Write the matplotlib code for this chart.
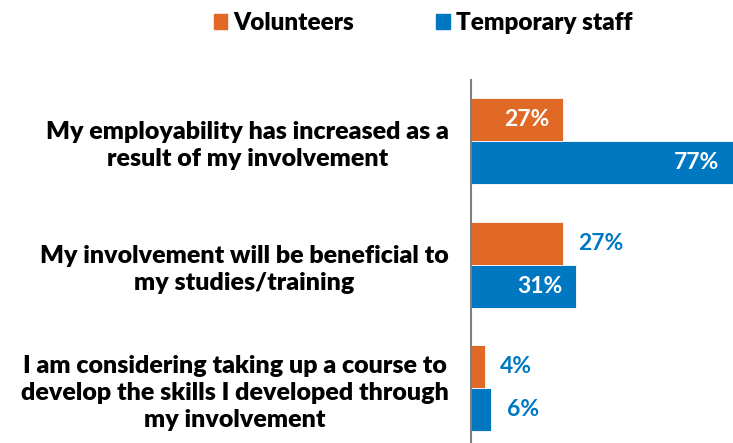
import matplotlib
matplotlib.use("Agg")
import matplotlib.pyplot as plt
from matplotlib.patches import Patch
import numpy as np

categories = [
    "My employability has increased as a\nresult of my involvement",
    "My involvement will be beneficial to\nmy studies/training",
    "I am considering taking up a course to\ndevelop the skills I developed through\nmy involvement",
]
series_names = ["Volunteers", "Temporary staff"]
volunteers = [27, 27, 4]
temporary_staff = [77, 31, 6]

# label placement (style): True = inside bar (white), False = outside (blue)
vol_inside = [True, False, False]
tmp_inside = [True, True, False]

ORANGE = "#E06A25"
BLUE = "#0078C1"
FONT = "Lato"

plt.rcParams["font.family"] = [FONT, "DejaVu Sans"]

fig = plt.figure(figsize=(7.33, 4.43), dpi=100)
ax = fig.add_axes([471 / 733, 0, 1 - 471 / 733, (443 - 80) / 443])

y = np.arange(len(categories))
h = 0.348
b1 = ax.barh(y - h / 2, volunteers, height=h, color=ORANGE, edgecolor="white", linewidth=0.6)
b2 = ax.barh(y + h / 2, temporary_staff, height=h, color=BLUE, edgecolor="white", linewidth=0.6)

ax.set_xlim(0, 77)
ax.set_ylim(2.445, -0.494)

for bars, vals, inside in ((b1, volunteers, vol_inside), (b2, temporary_staff, tmp_inside)):
    for bar, v, ins in zip(bars, vals, inside):
        yc = bar.get_y() + bar.get_height() / 2
        if ins:
            ax.annotate(f"{v}%", (v, yc), xytext=(-10, 0), textcoords="offset points",
                        ha="right", va="center", color="white", fontsize=16.5, fontweight="bold")
        else:
            ax.annotate(f"{v}%", (v, yc), xytext=(11, 0), textcoords="offset points",
                        ha="left", va="center", color=BLUE, fontsize=16.5, fontweight="bold")

ax.set_yticks(y)
ax.set_yticklabels(categories, fontsize=18, fontweight="heavy")
for t in ax.get_yticklabels():
    t.set_multialignment("center")
    t.set_linespacing(1.28)
ax.tick_params(axis="y", length=0, pad=16)
ax.set_xticks([])
for s in ("top", "right", "bottom"):
    ax.spines[s].set_visible(False)
ax.spines["left"].set_color("#808080")
ax.spines["left"].set_linewidth(1.5)

handles = [Patch(color=ORANGE), Patch(color=BLUE)]
fig.legend(handles, series_names, loc="center", bbox_to_anchor=(0.577, 0.948), ncol=2,
           frameon=False, prop={"family": FONT, "weight": "heavy", "size": 17.5},
           handlelength=0.55, handleheight=0.55, handletextpad=0.25, columnspacing=3.4)

fig.savefig("out.png", dpi=100)
